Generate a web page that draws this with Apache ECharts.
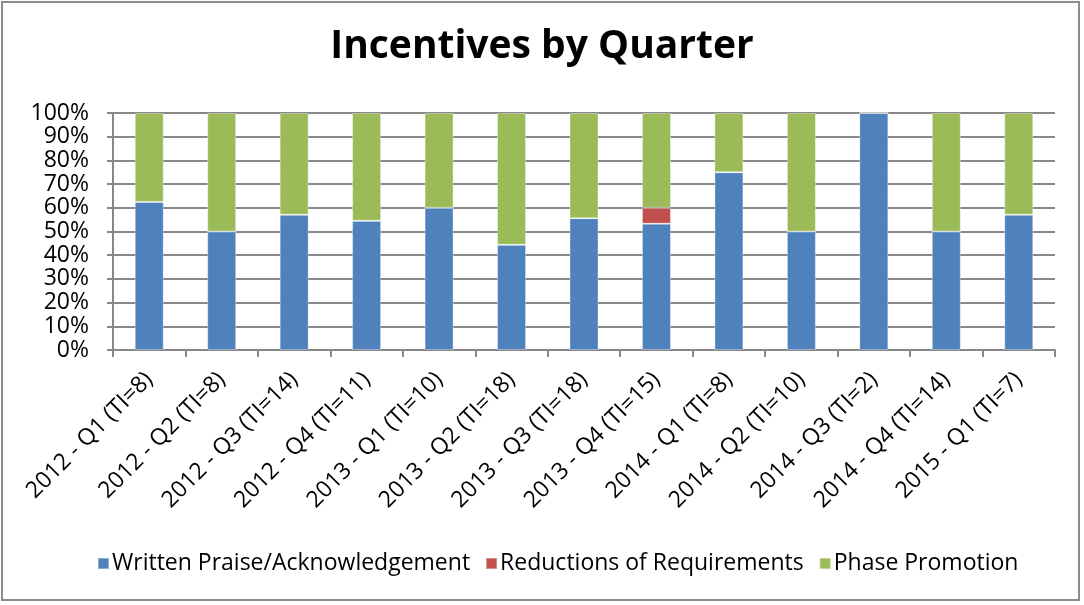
<!DOCTYPE html>
<html>
<head>
<meta charset="utf-8">
<script src="https://cdn.jsdelivr.net/npm/echarts@6/dist/echarts.min.js"></script>
<style>
  html, body { margin: 0; padding: 0; background: #fff; }
  #frame { position: absolute; left: 1px; top: 1px; width: 1079px; height: 600px; border: 2px solid #8c8c8c; box-sizing: border-box; }
  #chart { position: absolute; left: 0; top: 0; width: 1084px; height: 605px; }
</style>
</head>
<body>
<div id="frame"></div>
<div id="chart"></div>
<script>
// Quarters, with total incentives (TI) per quarter
const quarters = [
  '2012 - Q1 (TI=8)', '2012 - Q2 (TI=8)', '2012 - Q3 (TI=14)', '2012 - Q4 (TI=11)',
  '2013 - Q1 (TI=10)', '2013 - Q2 (TI=18)', '2013 - Q3 (TI=18)', '2013 - Q4 (TI=15)',
  '2014 - Q1 (TI=8)', '2014 - Q2 (TI=10)', '2014 - Q3 (TI=2)', '2014 - Q4 (TI=14)',
  '2015 - Q1 (TI=7)'
];

// Share of incentives per type, in percent
const writtenPraise = [62.5, 50, 57.1, 54.5, 60, 44.4, 55.6, 53.3, 75, 50, 100, 50, 57.1];
const reductions    = [0, 0, 0, 0, 0, 0, 0, 6.7, 0, 0, 0, 0, 0];
const phasePromo    = [37.5, 50, 42.9, 45.5, 40, 55.6, 44.4, 40, 25, 50, 0, 50, 42.9];

const seriesNames = ['Written Praise/Acknowledgement', 'Reductions of Requirements', 'Phase Promotion'];
const seriesColors = ['#4F81BD', '#C0504D', '#9BBB59'];
const seriesData = [writtenPraise, reductions, phasePromo];

const font = '"Open Sans", Lato, sans-serif';
const chart = echarts.init(document.getElementById('chart'));

chart.setOption({
  animation: false,
  title: {
    text: 'Incentives by Quarter',
    left: 'center',
    top: 22,
    textStyle: { fontFamily: font, fontSize: 39, fontWeight: 'bold', color: '#000' }
  },
  legend: {
    bottom: 25,
    left: 92,
    itemWidth: 11,
    itemHeight: 11,
    itemGap: 15,
    icon: 'rect',
    textStyle: { fontFamily: font, fontSize: 23, color: '#000', padding: [0, 0, 0, -2] },
    data: seriesNames
  },
  grid: { left: 113, right: 29, top: 113, bottom: 255, containLabel: false },
  xAxis: {
    type: 'category',
    data: quarters,
    axisLine: { lineStyle: { color: '#888', width: 2 } },
    axisTick: { show: true, length: 7, lineStyle: { color: '#888', width: 2 } },
    axisLabel: {
      rotate: 45,
      interval: 0,
      margin: 26,
      fontFamily: font,
      fontSize: 23,
      color: '#000'
    }
  },
  yAxis: {
    type: 'value',
    min: 0,
    max: 100,
    interval: 10,
    axisLine: { show: true, lineStyle: { color: '#888', width: 2 } },
    axisTick: { show: true, length: 6, lineStyle: { color: '#888', width: 2 } },
    splitLine: { lineStyle: { color: '#888', width: 2 } },
    axisLabel: {
      formatter: '{value}%',
      margin: 24,
      showMinLabel: true,
      showMaxLabel: true,
      hideOverlap: false,
      fontFamily: font,
      fontSize: 23,
      lineHeight: 20,
      color: '#000'
    }
  },
  series: seriesNames.map((name, i) => ({
    name: name,
    type: 'bar',
    stack: 'share',
    barWidth: '40%',
    data: seriesData[i],
    itemStyle: { color: seriesColors[i], borderColor: 'rgba(255,255,255,0.35)', borderWidth: 1 }
  }))
});
</script>
</body>
</html>
